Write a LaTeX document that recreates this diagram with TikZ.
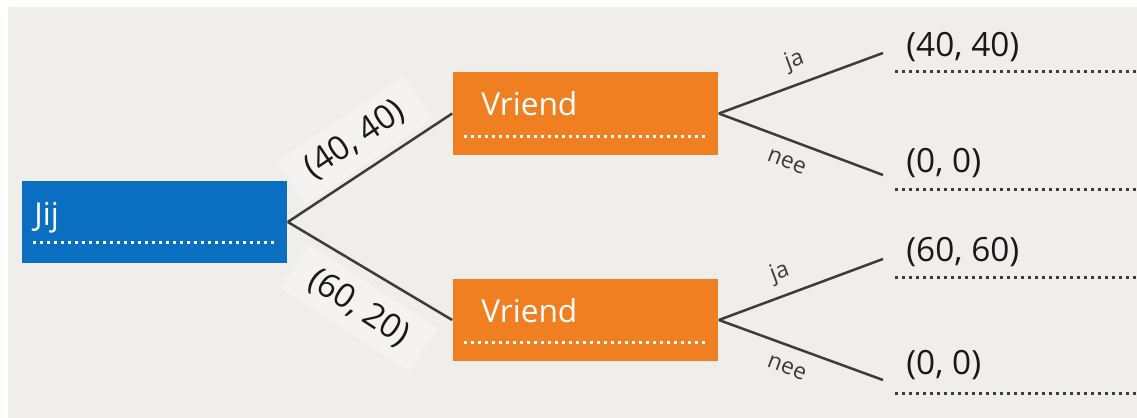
\documentclass[tikz,border=0pt]{standalone}
\usepackage{fontspec}
\setmainfont{Open Sans}
\usepackage{tikz}
\usetikzlibrary{positioning}

\definecolor{achtergrond}{HTML}{F0EEEB}
\definecolor{labelvlak}{HTML}{F4F3F1}
\definecolor{jijblauw}{HTML}{0A6FC0}
\definecolor{vriendoranje}{HTML}{F07F21}
\definecolor{lijngrijs}{HTML}{3C3C3C}

\tikzstyle{speler} = [rectangle, inner sep=0pt, minimum width=5.32cm, minimum height=1.65cm]
\tikzstyle{spelertekst} = [anchor=base west, inner sep=0pt, text=white, font=\fontsize{18}{20}\selectfont]
\tikzstyle{tak} = [lijngrijs, line width=0.05cm]
\tikzstyle{keuze} = [sloped, inner sep=1pt, text=lijngrijs, font=\fontsize{13}{15}\selectfont]
\tikzstyle{uitkomst} = [anchor=west, inner sep=0pt, text=black!90, font=\fontsize{19}{21}\selectfont]
\tikzstyle{waarde} = [fill=labelvlak, inner xsep=0.4cm, inner ysep=0.22cm, text=black!90, font=\fontsize{19}{21}\selectfont]
\tikzstyle{stippel} = [line width=0.06cm, dash pattern=on 0.06cm off 0.08cm]

\begin{document}
\begin{tikzpicture}[x=0.02cm, y=-0.02cm]
	
	% Achtergrond:
	\useasboundingbox (0,0) rectangle (1137,418);
	\fill[white] (0,0) rectangle (1137,418);
	\fill[achtergrond] (8,7) rectangle (1137,418);
	
	% Labels bij de eerste takken (met licht vlak erachter):
	\node[waarde, rotate=34] (waardeA) at (355,140) {(40, 40)};
	\node[waarde, rotate=-33] (waardeB) at (359,308) {(60, 20)};
	
	% Spelers:
	\node[speler, fill=jijblauw] (jij) at (154.5,222) {};
	\node[speler, fill=vriendoranje] (vriendA) at (585.5,113.5) {};
	\node[speler, fill=vriendoranje] (vriendB) at (585.5,320) {};
	
	\node[spelertekst] (jijtekst) at (34,226) {Jij};
	\node[spelertekst] (vriendAtekst) at (481,116) {Vriend};
	\node[spelertekst] (vriendBtekst) at (481,323) {Vriend};
	
	% Witte stippellijnen in de vakken:
	\draw[stippel, white] (33,243) -- (277,243);
	\draw[stippel, white] (464,137) -- (707,137);
	\draw[stippel, white] (464,343) -- (707,343);
	
	% Takken van Jij naar Vriend:
	\draw[tak] (jij.east) -- (vriendA.west);
	\draw[tak] (jij.east) -- (vriendB.west);
	
	% Eindpunten van de takken van Vriend:
	\coordinate (eindAja) at (883,53);
	\coordinate (eindAnee) at (883,175);
	\coordinate (eindBja) at (883,259);
	\coordinate (eindBnee) at (883,380);
	
	\draw[tak] (vriendA.east) -- node[keuze, pos=0.51, above=5pt] {ja} (eindAja);
	\draw[tak] (vriendA.east) -- node[keuze, pos=0.46, below=7pt] {nee} (eindAnee);
	\draw[tak] (vriendB.east) -- node[keuze, pos=0.42, above=5pt] {ja} (eindBja);
	\draw[tak] (vriendB.east) -- node[keuze, pos=0.46, below=7pt] {nee} (eindBnee);
	
	% Uitkomsten:
	\node[uitkomst] (uitAja) at (906,47) {(40, 40)};
	\node[uitkomst] (uitAnee) at (906,163) {(0, 0)};
	\node[uitkomst] (uitBja) at (906,252) {(60, 60)};
	\node[uitkomst] (uitBnee) at (906,365) {(0, 0)};
	
	\foreach \y in {72,190,278,394}
	{
		\draw[stippel, lijngrijs] (895,\y) -- (1137,\y);
	}
	
\end{tikzpicture}
\end{document}
